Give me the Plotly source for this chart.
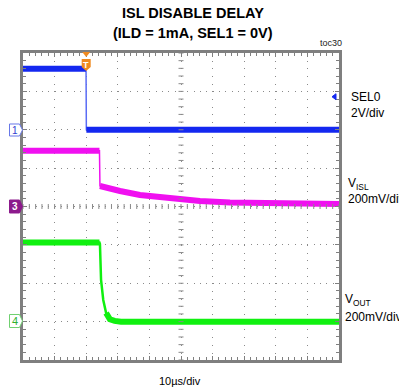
import plotly.graph_objects as go

# ---------------- data ----------------
trigger_time_us = 20.0

# SEL0 (channel 1), volts
sel0_t = [0, 19.95, 20.05, 100]
sel0_v = [3.18, 3.18, 0.0, 0.0]
sel0_break = 2          # index where the fast edge ends

# V_ISL (channel 3), mV
visl_t = [0, 24.2, 24.35, 27.0, 30.7, 37.0, 43.4, 49.7, 56.0, 65.5, 75.0, 87.7, 100]
visl_v = [291, 291, 107, 94, 81, 60, 47, 37, 29, 21, 17, 14, 13]
visl_break = 2

# V_OUT (channel 4), mV
vout_t = [0, 24.2, 24.35, 24.7, 25.4, 26.3, 27.5, 29.0, 31.0, 100]
vout_v = [412, 412, 405, 218, 113, 45, 12, 4, 0, 0]
vout_break_a = 2
vout_break_b = 5

# channel settings: (offset in divisions, volts per division)
ch1_offset, ch1_scale = 2.0, 2.0
ch3_offset, ch3_scale = 0.0, 200.0
ch4_offset, ch4_scale = -3.0, 200.0
trig_level_v = 1.72

# ---------------- layout geometry ----------------
W, H = 399, 389
L, R, T, B = 23, 339, 53, 360
PW, PH = R - L, B - T


def px(x):
    return (x - L) / PW


def py(y):
    return (B - y) / PH


def to_div(vals, off, scale):
    return [off + v / scale for v in vals]


def thick_parts(t, y, breaks):
    tt, yy = [], []
    for i, (a, b) in enumerate(zip(t, y)):
        if i in breaks:
            tt.append(None)
            yy.append(None)
        tt.append(a)
        yy.append(b)
    return tt, yy


BLUE = "#1428F0"
MAG = "#F010F0"
GRN = "#10F010"

fig = go.Figure()

# SEL0
y1 = to_div(sel0_v, ch1_offset, ch1_scale)
fig.add_trace(go.Scatter(x=sel0_t, y=y1, mode="lines",
                         line=dict(color="#5A6CF5", width=1.5), hoverinfo="skip"))
tt, yy = thick_parts(sel0_t, y1, [sel0_break])
fig.add_trace(go.Scatter(x=tt, y=yy, mode="lines",
                         line=dict(color=BLUE, width=6), hoverinfo="skip"))

# VISL
y3 = to_div(visl_v, ch3_offset, ch3_scale)
fig.add_trace(go.Scatter(x=visl_t, y=y3, mode="lines",
                         line=dict(color=MAG, width=1.5), hoverinfo="skip"))
tt, yy = thick_parts(visl_t, y3, [visl_break])
fig.add_trace(go.Scatter(x=tt, y=yy, mode="lines",
                         line=dict(color=MAG, width=6), hoverinfo="skip"))

# VOUT
y4 = to_div(vout_v, ch4_offset, ch4_scale)
fig.add_trace(go.Scatter(x=vout_t, y=y4, mode="lines",
                         line=dict(color=GRN, width=2.5), hoverinfo="skip"))
tt = vout_t[:vout_break_a] + [None] + vout_t[vout_break_b:]
yy = y4[:vout_break_a] + [None] + y4[vout_break_b:]
fig.add_trace(go.Scatter(x=tt, y=yy, mode="lines",
                         line=dict(color=GRN, width=6), hoverinfo="skip"))

shapes = []
# center cross ticks
xdiv_px = 100 / PW
ydiv_px = 8 / PH
for i in range(51):
    xv = i * 2.0
    shapes.append(dict(type="line", xref="x", yref="y", x0=xv, x1=xv,
                       y0=-2.5 * ydiv_px, y1=2.5 * ydiv_px,
                       line=dict(color="#8a8a8a", width=1)))
for i in range(41):
    yv = -4 + i * 0.2
    shapes.append(dict(type="line", xref="x", yref="y", x0=50 - 2.5 * xdiv_px,
                       x1=50 + 2.5 * xdiv_px, y0=yv, y1=yv,
                       line=dict(color="#8a8a8a", width=1)))


def path(points):
    s = "M " + " L ".join(f"{px(a):.5f},{py(b):.5f}" for a, b in points) + " Z"
    return s


# channel markers
shapes.append(dict(type="path", xref="paper", yref="paper",
                   path=path([(9.5, 124), (19.5, 124), (22.5, 130), (19.5, 136), (9.5, 136)]),
                   fillcolor="white", line=dict(color="#6878E8", width=1)))
shapes.append(dict(type="path", xref="paper", yref="paper",
                   path=path([(9.5, 200), (19.5, 200), (22.5, 206.5), (19.5, 213), (9.5, 213)]),
                   fillcolor="#8C1A8C", line=dict(color="#8C1A8C", width=1)))
shapes.append(dict(type="path", xref="paper", yref="paper",
                   path=path([(9.5, 314.5), (19.5, 314.5), (22.5, 321), (19.5, 327.5), (9.5, 327.5)]),
                   fillcolor="white", line=dict(color="#70D070", width=1)))
# trigger marker (top)
trig_px = L + trigger_time_us / 100 * PW
shapes.append(dict(type="path", xref="paper", yref="paper",
                   path=path([(trig_px - 4, 52), (trig_px + 4, 52), (trig_px, 57)]),
                   fillcolor="#F08A20", line=dict(width=0)))
shapes.append(dict(type="path", xref="paper", yref="paper",
                   path=path([(trig_px - 4.5, 59), (trig_px + 4.5, 59), (trig_px + 4.5, 67),
                              (trig_px, 71), (trig_px - 4.5, 67)]),
                   fillcolor="#F08A20", line=dict(width=0)))
# trigger level arrow (right)
lvl_px = B - (ch1_offset + trig_level_v / ch1_scale + 4) / 8 * PH
shapes.append(dict(type="path", xref="paper", yref="paper",
                   path=path([(332, lvl_px), (336, lvl_px - 3), (336, lvl_px + 3)]),
                   fillcolor=BLUE, line=dict(color=BLUE, width=1)))

ann = []


def text(xp, yp, s, size=12, color="black", xanchor="left", bold=False, family="Arial, Liberation Sans"):
    ann.append(dict(xref="paper", yref="paper", x=px(xp), y=py(yp), text=f"<b>{s}</b>" if bold else s,
                    showarrow=False, xanchor=xanchor, yanchor="middle",
                    font=dict(size=size, color=color, family=family)))


text(192.5, 13, "ISL DISABLE DELAY", size=14.5, xanchor="center", bold=True)
text(192.5, 33, "(ILD = 1mA, SEL1 = 0V)", size=14.5, xanchor="center", bold=True)
text(331, 43, "toc30", size=9, xanchor="center", color="#222")
text(180, 381, "10µs/div", size=11, xanchor="center")
text(348.5, 97, "SEL0", size=12)
text(348.5, 113, "2V/div", size=12)
text(345.5, 184, "V<sub>ISL</sub>", size=12)
text(345.5, 199, "200mV/div", size=12)
text(343, 300, "V<sub>OUT</sub>", size=12)
text(343, 317, "200mV/div", size=12)
text(14.5, 130, "1", size=10, xanchor="center", color="#3040D0")
text(14.5, 206.5, "3", size=10, xanchor="center", color="white", bold=True)
text(14.5, 321, "4", size=11, xanchor="center", color="#30B030")
text(trig_px, 64.5, "T", size=9, xanchor="center", color="white", bold=True)

axis_common = dict(showline=True, mirror="allticks", linecolor="#7f7f7f", linewidth=3,
                   ticks="inside", ticklen=4, tickcolor="#7f7f7f", tickwidth=1,
                   showticklabels=False, zeroline=False, fixedrange=True,
                   gridcolor="#8a8a8a", gridwidth=1)

fig.update_layout(
    width=W, height=H,
    margin=dict(l=L, r=W - R, t=T, b=H - B),
    paper_bgcolor="white", plot_bgcolor="white",
    showlegend=False,
    xaxis=dict(range=[0, 100], dtick=10, tick0=0, griddash="1px,6.68px",
               minor=dict(dtick=2, ticks="inside", ticklen=3, tickcolor="#7f7f7f", showgrid=False),
               **axis_common),
    yaxis=dict(range=[-4, 4], dtick=1, tick0=0, griddash="1px,5.32px",
               minor=dict(dtick=0.2, ticks="inside", ticklen=3, tickcolor="#7f7f7f", showgrid=False),
               **axis_common),
    shapes=shapes,
    annotations=ann,
)

fig.write_html("out.html", config={"displayModeBar": False},
               post_script="document.body.style.margin='0';document.body.style.padding='0';")
